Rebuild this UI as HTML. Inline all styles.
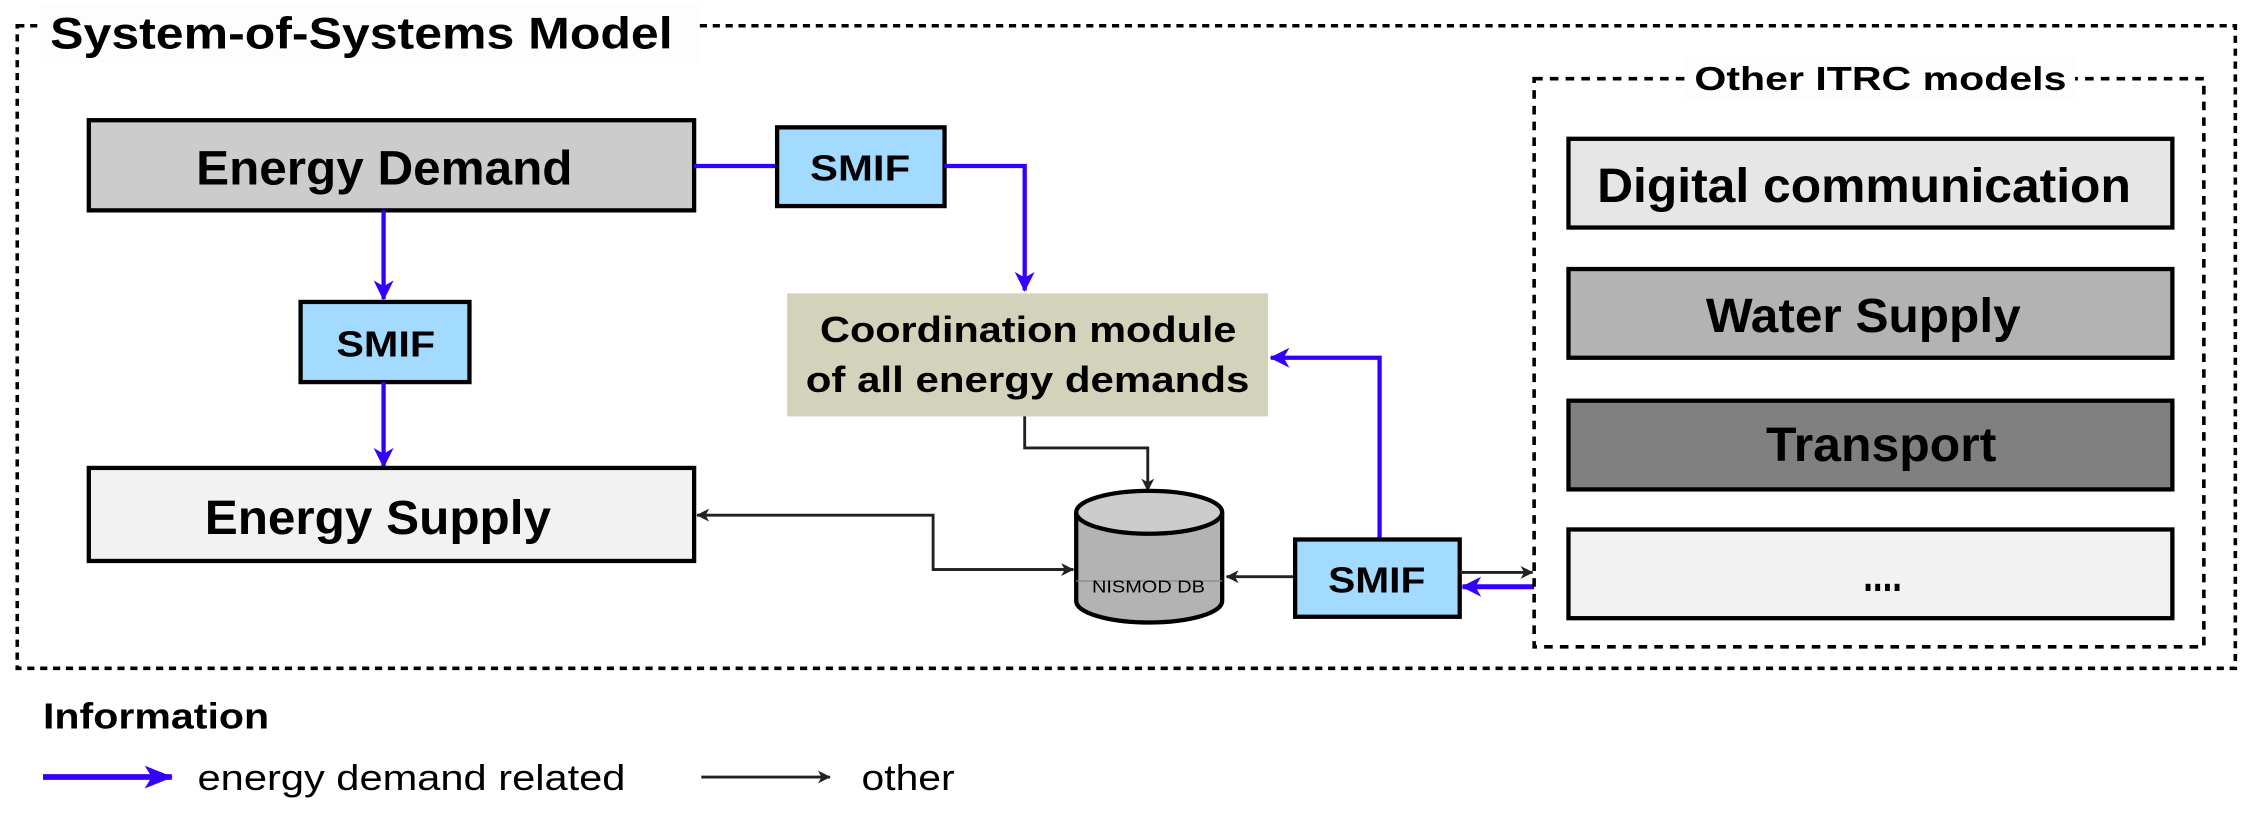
<!DOCTYPE html>
<html><head><meta charset="utf-8"><style>html,body{margin:0;padding:0;background:#fff}svg{display:block}</style></head><body>
<svg width="2244" height="835" viewBox="0 0 1568 583.5" xmlns="http://www.w3.org/2000/svg" font-family="Liberation Sans, Arial, sans-serif">
<defs>
<marker id="bA" markerWidth="14" markerHeight="14" refX="13" refY="7" orient="auto" markerUnits="userSpaceOnUse"><path d="M0,0 L14,7 L0,14 L4,7 z" fill="#3300ff"/></marker>
<marker id="kA" markerWidth="9" markerHeight="9" refX="8.5" refY="4.5" orient="auto" markerUnits="userSpaceOnUse"><path d="M0,0 L9,4.5 L0,9 L2.5,4.5 z" fill="#222"/></marker>
<marker id="bL" markerWidth="20" markerHeight="16" refX="19" refY="8" orient="auto" markerUnits="userSpaceOnUse"><path d="M0,0 L20,8 L0,16 L5,8 z" fill="#3300ff"/></marker>
</defs>
<g lengthAdjust="spacingAndGlyphs">
<rect x="12" y="18" width="1550" height="449" fill="none" stroke="#000" stroke-width="2.5" stroke-dasharray="5,4"/>
<rect x="28" y="2" width="460" height="42" fill="#fcfdfc"/>
<text x="35" y="34" font-size="31" font-weight="bold" textLength="435" lengthAdjust="spacingAndGlyphs">System-of-Systems Model</text>

<rect x="62" y="84" width="423" height="63" fill="#cccccc" stroke="#000" stroke-width="3"/>
<text x="137" y="129" font-size="34" font-weight="bold" textLength="263" lengthAdjust="spacingAndGlyphs">Energy Demand</text>
<line x1="485" y1="116" x2="542" y2="116" stroke="#3300ff" stroke-width="3"/>
<rect x="543" y="89" width="117" height="55" fill="#a3daff" stroke="#000" stroke-width="3"/>
<text x="566" y="126" font-size="25" font-weight="bold" textLength="70" lengthAdjust="spacingAndGlyphs">SMIF</text>
<polyline points="660,116 716,116 716,203" fill="none" stroke="#3300ff" stroke-width="3" marker-end="url(#bA)"/>
<rect x="550" y="205" width="336" height="86" fill="#d3d3bb"/>
<text x="573" y="239" font-size="25" font-weight="bold" textLength="291" lengthAdjust="spacingAndGlyphs">Coordination module</text>
<text x="563" y="274" font-size="25" font-weight="bold" textLength="310" lengthAdjust="spacingAndGlyphs">of all energy demands</text>
<line x1="268" y1="147" x2="268" y2="209" stroke="#3300ff" stroke-width="3" marker-end="url(#bA)"/>
<rect x="210" y="211" width="118" height="56" fill="#a3daff" stroke="#000" stroke-width="3"/>
<text x="235" y="249" font-size="25" font-weight="bold" textLength="69" lengthAdjust="spacingAndGlyphs">SMIF</text>
<line x1="268" y1="267" x2="268" y2="326" stroke="#3300ff" stroke-width="3" marker-end="url(#bA)"/>
<rect x="62" y="327" width="423" height="65" fill="#f2f2f2" stroke="#000" stroke-width="3"/>
<text x="143" y="373" font-size="34" font-weight="bold" textLength="242" lengthAdjust="spacingAndGlyphs">Energy Supply</text>
<polyline points="716,291 716,313 802,313 802,343" fill="none" stroke="#222" stroke-width="2" marker-end="url(#kA)"/>
<polyline points="750,398 652,398 652,360 487,360" fill="none" stroke="#222" stroke-width="2" marker-end="url(#kA)"/>
<line x1="652" y1="398" x2="750" y2="398" stroke="#222" stroke-width="2" marker-end="url(#kA)"/>
<path d="M752,358 L752,420 A51,15 0 0 0 854,420 L854,358" fill="#b3b3b3" stroke="#000" stroke-width="3"/>
<line x1="752" y1="406" x2="854" y2="406" stroke="#888" stroke-width="0.8"/>
<ellipse cx="803" cy="358" rx="51" ry="15" fill="#cccccc" stroke="#000" stroke-width="3"/>
<text x="763" y="414" font-size="12" textLength="79" lengthAdjust="spacingAndGlyphs">NISMOD DB</text>
<line x1="904" y1="403" x2="857" y2="403" stroke="#222" stroke-width="2" marker-end="url(#kA)"/>
<polyline points="964,376 964,250 888,250" fill="none" stroke="#3300ff" stroke-width="3" marker-end="url(#bA)"/>
<rect x="905" y="377" width="115" height="54" fill="#a3daff" stroke="#000" stroke-width="3"/>
<text x="928" y="414" font-size="25" font-weight="bold" textLength="68" lengthAdjust="spacingAndGlyphs">SMIF</text>
<line x1="1020" y1="400" x2="1071" y2="400" stroke="#222" stroke-width="2" marker-end="url(#kA)"/>
<line x1="1072" y1="410" x2="1022" y2="410" stroke="#3300ff" stroke-width="3.5" marker-end="url(#bA)"/>
<rect x="1072" y="55" width="468" height="397" fill="none" stroke="#000" stroke-width="2.5" stroke-dasharray="6,5"/>
<rect x="1178" y="40" width="272" height="30" fill="#fcfdfc"/>
<text x="1184" y="63" font-size="23" font-weight="bold" textLength="260" lengthAdjust="spacingAndGlyphs">Other ITRC models</text>
<rect x="1096" y="97" width="422" height="62" fill="#e6e6e6" stroke="#000" stroke-width="3"/>
<text x="1116" y="141" font-size="34" font-weight="bold" textLength="373" lengthAdjust="spacingAndGlyphs">Digital communication</text>
<rect x="1096" y="188" width="422" height="62" fill="#b3b3b3" stroke="#000" stroke-width="3"/>
<text x="1192" y="232" font-size="34" font-weight="bold" textLength="220" lengthAdjust="spacingAndGlyphs">Water Supply</text>
<rect x="1096" y="280" width="422" height="62" fill="#808080" stroke="#000" stroke-width="3"/>
<text x="1234" y="322" font-size="34" font-weight="bold" textLength="161" lengthAdjust="spacingAndGlyphs">Transport</text>
<rect x="1096" y="370" width="422" height="62" fill="#f2f2f2" stroke="#000" stroke-width="3"/>
<text x="1302" y="413" font-size="34" font-weight="bold" textLength="27" lengthAdjust="spacingAndGlyphs">....</text>
<text x="30" y="509" font-size="25" font-weight="bold" textLength="158" lengthAdjust="spacingAndGlyphs">Information</text>
<line x1="30" y1="543" x2="120" y2="543" stroke="#3300ff" stroke-width="4" marker-end="url(#bL)"/>
<text x="138" y="552" font-size="25" textLength="299" lengthAdjust="spacingAndGlyphs">energy demand related</text>
<line x1="490" y1="543" x2="580" y2="543" stroke="#222" stroke-width="2" marker-end="url(#kA)"/>
<text x="602" y="552" font-size="25" textLength="65" lengthAdjust="spacingAndGlyphs">other</text>
</g>
</svg>
</body></html>
